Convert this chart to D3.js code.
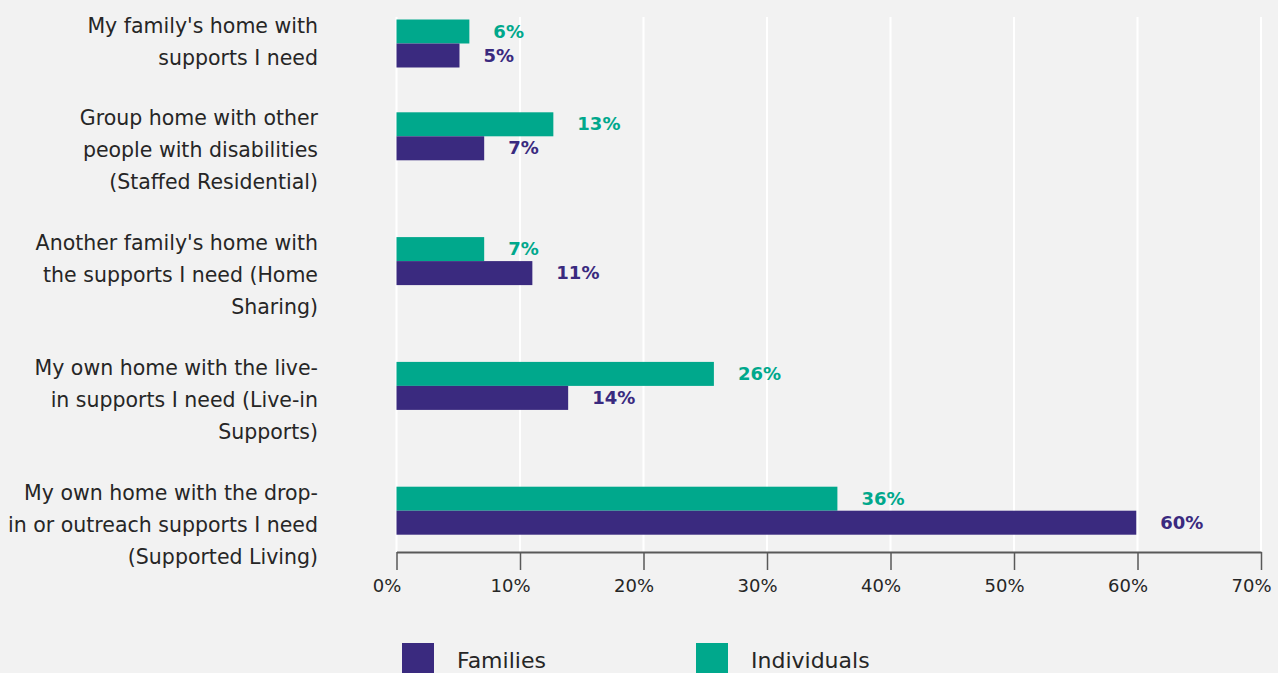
<!DOCTYPE html>
<html>
<head>
<meta charset="utf-8">
<script src="https://cdn.jsdelivr.net/npm/d3@7"></script>
<style>
  html, body { margin: 0; padding: 0; background: #f2f2f2; }
  svg { display: block; }
  text { font-family: "DejaVu Sans", sans-serif; }
</style>
</head>
<body>
<svg id="chart" width="1278" height="673"></svg>
<script>
// ---- Data ----
const categoryLines = [
  ["My family's home with", "supports I need"],
  ["Group home with other", "people with disabilities", "(Staffed Residential)"],
  ["Another family's home with", "the supports I need (Home", "Sharing)"],
  ["My own home with the live-", "in supports I need (Live-in", "Supports)"],
  ["My own home with the drop-", "in or outreach supports I need", "(Supported Living)"]
];
const seriesNames = ["Individuals", "Families"];
const individualsValues = [5.9, 12.7, 7.1, 25.7, 35.7];
const familiesValues = [5.1, 7.1, 11.0, 13.9, 59.9];
const xTicks = [0, 10, 20, 30, 40, 50, 60, 70];
const legendOrder = ["Families", "Individuals"];

// ---- Layout ----
const svg = d3.select("#chart");
const plotLeft = 396.5, plotRight = 1261, plotTop = 17, plotBottom = 552;
const lineH = 32;        // px per label line
const rowGap = 0.9;      // gap between rows in line units
const barH = 24;

const color = d3.scaleOrdinal().domain(seriesNames).range(["#00a88c", "#3a2a7f"]);

const x = d3.scaleLinear().domain([0, 70]).range([plotLeft, plotRight]);

// row starts in "line units" derived from label line counts
const rowStarts = [];
categoryLines.reduce((acc, lines) => { rowStarts.push(acc); return acc + lines.length + rowGap; }, 0);
const yUnit = d3.scaleLinear().domain([0, 1]).range([25.5, 25.5 + lineH]);

// gridlines
svg.append("g").selectAll("line")
  .data(xTicks)
  .join("line")
  .attr("x1", d => x(d)).attr("x2", d => x(d))
  .attr("y1", plotTop).attr("y2", plotBottom)
  .attr("stroke", "#ffffff").attr("stroke-width", 2);

// bars
const rows = categoryLines.map((lines, i) => ({
  lines, start: rowStarts[i],
  vals: [
    { s: "Individuals", v: individualsValues[i] },
    { s: "Families", v: familiesValues[i] }
  ]
}));

const g = svg.append("g");
rows.forEach(r => {
  const top = yUnit(r.start) - 6;
  r.vals.forEach((d, j) => {
    g.append("rect")
      .attr("x", x(0))
      .attr("y", top + j * barH)
      .attr("width", x(d.v) - x(0))
      .attr("height", barH)
      .attr("fill", color(d.s));
    g.append("text")
      .attr("x", x(d.v) + 24)
      .attr("y", top + j * barH + barH / 2 + 1)
      .attr("dominant-baseline", "middle")
      .attr("font-size", 18)
      .attr("font-weight", "bold")
      .attr("fill", color(d.s))
      .text(d3.format(".0f")(d.v) + "%");
  });
  // category label
  r.lines.forEach((ln, k) => {
    svg.append("text")
      .attr("x", 318)
      .attr("y", yUnit(r.start + k) + 1)
      .attr("text-anchor", "end")
      .attr("dominant-baseline", "middle")
      .attr("font-size", 20.5)
      .attr("fill", "#262626")
      .text(ln);
  });
});

// x axis
const xAxis = d3.axisBottom(x).tickValues(xTicks).tickFormat(d => d + "%").tickSize(18).tickSizeOuter(0);
const ax = svg.append("g").attr("transform", `translate(0,${plotBottom})`).call(xAxis);
ax.select(".domain").attr("stroke", "#595959").attr("stroke-width", 2);
ax.selectAll(".tick line").attr("stroke", "#595959").attr("stroke-width", 1.5);
ax.selectAll(".tick text")
  .attr("font-family", "DejaVu Sans, sans-serif")
  .attr("font-size", 18).attr("fill", "#262626")
  .attr("dy", "0.71em").attr("y", 27).attr("dx", -10);

// legend
const legendX = d3.scalePoint().domain(legendOrder).range([402, 696]);
const lg = svg.append("g").selectAll("g").data(legendOrder).join("g")
  .attr("transform", d => `translate(${legendX(d)},643)`);
lg.append("rect").attr("width", 32).attr("height", 32).attr("fill", d => color(d));
lg.append("text").attr("x", 55).attr("y", 19).attr("dominant-baseline", "middle")
  .attr("font-size", 22).attr("fill", "#262626").text(d => d);
</script>
</body>
</html>
